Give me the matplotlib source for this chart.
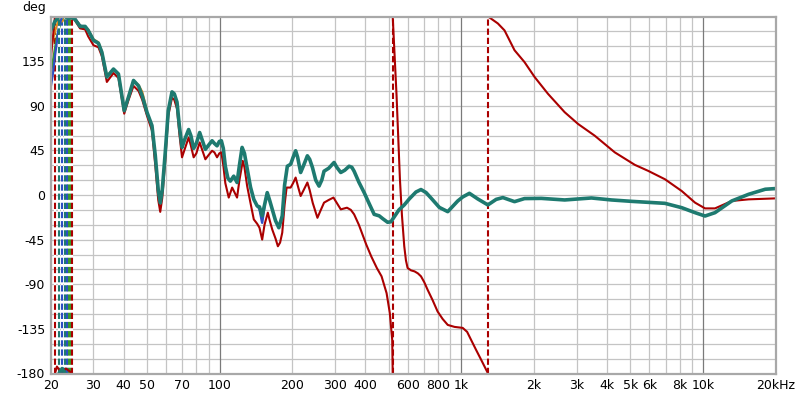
import numpy as np
import matplotlib
matplotlib.use("Agg")
import matplotlib.pyplot as plt

plt.rcParams["axes.unicode_minus"] = False

# ---- data (frequency in Hz, phase in degrees, wrapped to +/-180) ----
teal_f = [20, 20.81, 21.62, 21.62, 22.28, 22.89, 22.89, 23.57, 24.48, 25.2, 26.43, 27.74, 28.55,
          30.03, 31.49, 32.53, 34.12, 36.34, 38.11, 40.26, 41.83, 43.99, 46.14, 47.8, 50.0, 52.44,
          54.12, 55.68, 56.75, 57.85, 59.53, 61.27, 63.48, 64.88, 66.58, 68.07, 69.84, 71.39, 74.37,
          75.96, 78.02, 80.06, 82.62, 84.78, 87.24, 89.78, 93.01, 95.08, 97.5, 99.66, 101.6, 103.5,
          105.5, 108.1, 110.7, 114.3, 118.0, 120.7, 123.8, 126.6, 129.9, 134.1, 138.4, 142.9, 146.1,
          149.9, 153.3, 157.3, 160.8, 165.0, 170.3, 175.7, 181.5, 185.6, 190.5, 196.6, 201.3, 206.2,
          210.2, 216.3, 222.6, 230.6, 235.7, 242.0, 249.7, 257.7, 264.5, 270.3, 282.7, 297.4, 305.2,
          317.0, 329.4, 343.2, 352.2, 360.0, 376.6, 396.2, 414.3, 435.8, 457.1, 473.6, 495.3, 511.2,
          527.6, 551.8, 580.5, 608.8, 648.9, 680.8, 714.1, 748.9, 810.9, 878.6, 966.6, 1013, 1080,
          1170, 1288, 1394, 1486, 1660, 1826, 2143, 2677, 3455, 4182, 5064, 6959, 8169, 9272, 10198,
          11217, 13165, 15448, 18106, 20000]
teal_deg = [166, 175, 180, -180, -175, -180, 180, 178, 179, 177, 170, 170, 166,
            156, 153, 144, 119, 127, 122, 85, 98, 115.5, 110, 100, 83.5, 70,
            40, 5, -8, 5, 43, 85, 104, 102, 93.6, 70, 48, 55, 66,
            60, 47, 52, 63, 55, 46, 50, 54.7, 52, 49.6, 54, 54.7, 47,
            29, 17, 14, 19, 12.6, 30, 48, 42, 27, 8, -4.4, -11, -12,
            -21, -10, 2.4, -5, -14.5, -26, -33, -21, 10, 29, 31, 38, 44.6,
            38, 22.7, 30, 39.5, 36, 27.8, 15, 9, 15, 24, 27, 32.8, 28,
            22.7, 25, 29, 28, 24, 13, 2.4, -8, -19.5, -21, -24, -27.5, -27,
            -22, -15, -10, -4, 3, 5.5, 2.5, -3, -12.5, -16.8, -6, -2, 1.7,
            -4, -10, -4.4, -2.6, -6.7, -3.6, -3.4, -5, -3, -5, -6.4, -8.4, -12.8, -17.8, -21.2,
            -17.8, -6, 0.7, 5.8, 6.5]

red_f = [20, 20.42, 20.81, 20.81, 21.2, 21.62, 22.3, 23.1, 24.0, 24.48, 24.48, 25.2, 26.43, 27.74,
         28.55, 30.03, 31.49, 32.53, 34.12, 36.34, 38.11, 40.26, 41.83, 43.99, 46.14, 47.8, 50.0,
         52.44, 54.12, 55.68, 56.75, 57.85, 59.53, 61.27, 63.48, 64.88, 66.58, 68.07, 69.84, 71.39,
         74.37, 75.96, 78.02, 80.06, 82.62, 84.78, 87.24, 89.78, 93.01, 95.08, 97.5, 99.66, 101.6,
         103.5, 105.5, 109.0, 112.6, 118.0, 120.7, 124.6, 126.6, 129.9, 134.1, 138.4, 142.9, 146.1,
         149.9, 153.3, 158.2, 160.8, 165.0, 170.3, 174.1, 177.8, 181.5, 185.6, 189.2, 196.6, 201.3,
         206.2, 211.2, 216.3, 222.6, 230.6, 235.7, 242.7, 253.8, 261.1, 270.3, 282.7, 295.7, 305.2,
         317.0, 336.3, 348.9, 360.0, 376.6, 404.2, 424.0, 447.0, 467.6, 490.6, 505.8, 517.6, 520,
         520, 539.5, 557.0, 567.7, 580.5, 590.0, 599.3, 619.2, 640.0, 660.8, 680.8, 702.6, 725.0,
         760.5, 797.7, 836.8, 878.6, 937.0, 1013, 1056.7, 1097, 1150, 1207, 1290,
         1290, 1416, 1509, 1583, 1660, 1826, 2010, 2284, 2677, 3043, 3565, 4316, 5224, 5938, 6959,
         8169, 9272, 10198, 11217, 13165, 15448, 20000]
red_deg = [137, 160, 180, -180, -173, -176, -178, -175, -178, -180, 180, 176, 168, 167,
           160, 151, 149, 140, 114, 123, 118, 82, 95, 110, 105, 96, 80,
           65, 30, -5, -17, -3, 35, 80, 98, 96, 87, 62, 38, 45,
           58, 50, 38, 42, 53, 45, 36, 40, 44.6, 43, 38, 42, 43,
           30, 12, -2.6, 7.5, -2.6, 15, 34.4, 28, 9, -8, -24.6, -29, -33,
           -45, -30, -17.8, -25, -34.8, -44, -51.7, -48, -38, -10, 7.5, 7.5, 12,
           17.6, 8, -1, 5, 12.6, 5, -8, -23, -16, -7.7, -5, -2.6, -8,
           -14.5, -12.8, -15, -19.5, -30, -50, -62, -73.6, -82, -99, -119, -146, -180,
           180, 100, 16, -20, -51.7, -66, -73.6, -76, -77, -79, -82, -88, -95.5,
           -106, -117.5, -125, -131, -133, -134, -138, -146, -156, -166, -180,
           180, 173, 166, 156, 146, 134, 119, 102, 83.5, 71.6, 59.8, 43, 30.4, 24.3, 15.9,
           4, -7.7, -13.5, -13.5, -6, -4.4, -3.4]

blue_f = [20, 20.4, 20.81, 21.62, 22.28, 22.28, 22.6, 23.0, 23.38, 23.38, 24.48, 25.2, 26.43,
          27.74, 28.55, 30.03]
blue_deg = [109, 122, 140, 170, 180, -180, -175, -176, -180, 180, 179, 178, 171,
            169, 166, 156]
blue2_f = [142.9, 146.1, 149.9, 153.3]
blue2_deg = [-11, -14, -28, -11]

orange_f = [20, 20.4, 20.81, 21.62, 22.28, 22.89, 24.0, 25.2, 26.43, 28.55, 30.03, 31.49,
            32.53, 34.12, 36.34, 38.11, 40.26, 41.83, 43.99, 46.14, 47.8, 50.0]
orange_deg = [146, 156, 165, 178, 175, 178, 180, 178, 171, 167, 157, 154,
              145, 120, 127, 122, 86, 98, 115, 111, 104, 85]

green_f = [20, 20.4, 21.2, 22.0, 23.0, 23.57, 23.57, 23.8, 24.1, 24.1, 25.2, 26.43, 28.55, 30.03]
green_deg = [122, 135, 160, 175, 179, 180, -180, -177, -180, 180, 177, 170, 166, 156]

x_ticks = [20, 30, 40, 50, 70, 100, 200, 300, 400, 600, 800, 1000, 2000, 3000, 4000, 5000,
           6000, 8000, 10000, 20000]
x_labels = ["20", "30", "40", "50", "70", "100", "200", "300", "400", "600", "800", "1k",
            "2k", "3k", "4k", "5k", "6k", "8k", "10k", "20kHz"]
y_ticks = [-180, -135, -90, -45, 0, 45, 90, 135]

# ---- figure ----
fig = plt.figure(figsize=(8, 3.96), dpi=100)
ax = fig.add_axes([50.8 / 800, 1 - 373.5 / 396, (775.7 - 50.8) / 800, (373.5 - 16.5) / 396])
ax.set_xscale("log")
ax.set_xlim(20, 20000)
ax.set_ylim(-180, 180)

# grid
minor_f = [f * d for d in (10, 100, 1000) for f in range(2, 10)] + [20000]
for f in minor_f:
    ax.axvline(f, color="#c4c4c4", lw=0.9, zorder=0.5)
for f in (100, 1000, 10000):
    ax.axvline(f, color="#7a7a7a", lw=0.9, zorder=0.6)
for y in range(-165, 180, 15):
    ax.axhline(y, color="#c4c4c4", lw=0.9, zorder=0.5)


def draw(fs, ds, color, lw, z):
    fs = np.asarray(fs, float)
    ds = np.asarray(ds, float)
    jumps = np.where(np.abs(np.diff(ds)) > 180)[0]
    start = 0
    for j in list(jumps) + [len(fs) - 1]:
        ax.plot(fs[start:j + 1], ds[start:j + 1], color=color, lw=lw, zorder=z,
                solid_capstyle="round", solid_joinstyle="round")
        start = j + 1
    for j in jumps:
        fw = fs[j]
        ax.plot([fw, fw], [-180, 180], color=color, lw=1.5, zorder=z - 0.5,
                linestyle=(0, (3, 1.4)), gapcolor="white")


draw(green_f, green_deg, "#3a9a2a", 1.6, 2.2)
draw(orange_f, orange_deg, "#e08a1c", 1.6, 2.3)
draw(blue_f, blue_deg, "#2d4fc4", 1.6, 2.4)
draw(blue2_f, blue2_deg, "#2d4fc4", 1.8, 2.4)
draw(red_f, red_deg, "#aa0000", 1.5, 2.6)
draw(teal_f, teal_deg, "#1e7a70", 2.6, 3.0)

ax.set_xticks(x_ticks)
ax.set_xticklabels(x_labels)
ax.xaxis.set_minor_locator(matplotlib.ticker.NullLocator())
ax.set_yticks(y_ticks)
ax.tick_params(axis="both", length=0, labelsize=9, colors="black", pad=4)
ax.tick_params(axis="x", pad=4)
for s in ax.spines.values():
    s.set_color("#a8a8a8")
    s.set_linewidth(1.6)
    s.set_zorder(5)

fig.text(22 / 800, 1 - 7 / 396, "deg", fontsize=9, va="center", ha="left")

fig.savefig("out.png", dpi=100)
